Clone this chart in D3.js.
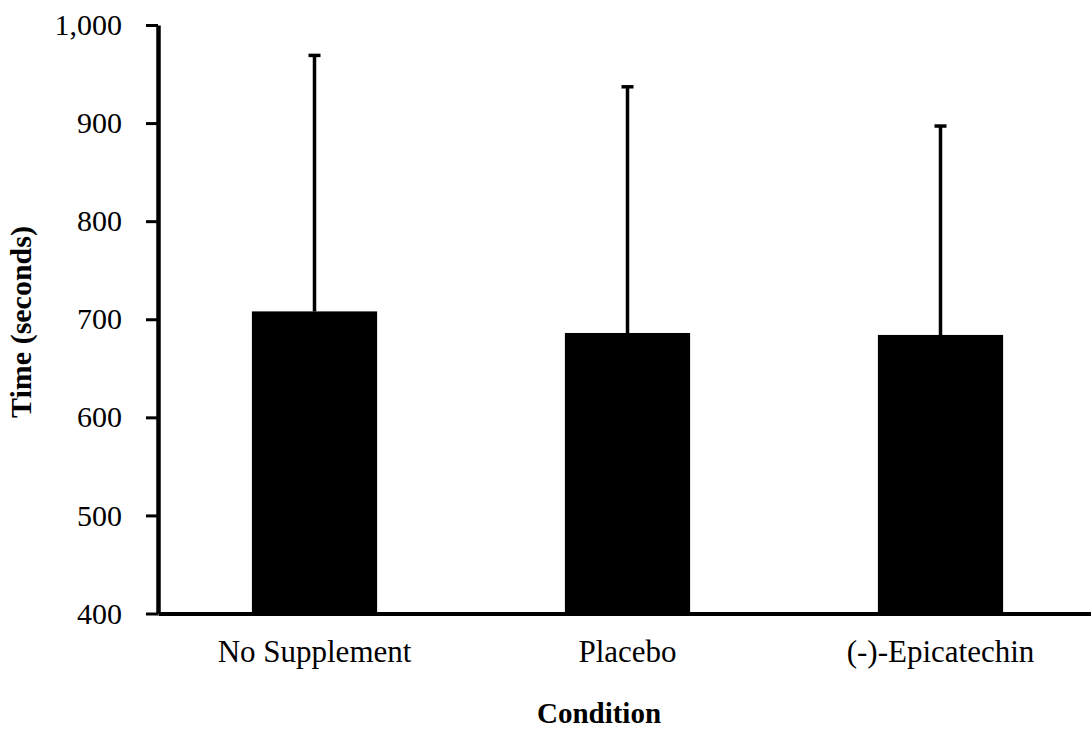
<!DOCTYPE html>
<html>
<head>
<meta charset="utf-8">
<script src="https://cdn.jsdelivr.net/npm/d3@7"></script>
<style>
  html, body { margin: 0; padding: 0; background: #fff; }
  svg { display: block; }
  text { font-family: "Liberation Serif", "Times New Roman", serif; fill: #000; }
</style>
</head>
<body>
<svg id="chart" width="1091" height="731"></svg>
<script>
const categories = ["No Supplement", "Placebo", "(-)-Epicatechin"];
const means = [708, 686, 684];
const errors = [261, 251, 213];
const yTicks = [400, 500, 600, 700, 800, 900, 1000];

const svg = d3.select("#chart");
const axisX = 158, topY = 25, baseY = 613.5;

const x = d3.scaleBand().domain(categories).range([axisX, 1097]).paddingInner(0.6).paddingOuter(0.3);
const y = d3.scaleLinear().domain([400, 1000]).range([baseY, topY]);

const data = categories.map((c, i) => ({ c, m: means[i], e: errors[i] }));

// error bars (behind bars)
const eg = svg.append("g");
eg.selectAll("line.err").data(data).join("line")
  .attr("x1", d => x(d.c) + x.bandwidth() / 2)
  .attr("x2", d => x(d.c) + x.bandwidth() / 2)
  .attr("y1", d => y(d.m))
  .attr("y2", d => y(d.m + d.e))
  .attr("stroke", "#000").attr("stroke-width", 3.5);
eg.selectAll("line.cap").data(data).join("line")
  .attr("x1", d => x(d.c) + x.bandwidth() / 2 - 6)
  .attr("x2", d => x(d.c) + x.bandwidth() / 2 + 6)
  .attr("y1", d => y(d.m + d.e))
  .attr("y2", d => y(d.m + d.e))
  .attr("stroke", "#000").attr("stroke-width", 3.5);

// bars
svg.append("g").selectAll("rect").data(data).join("rect")
  .attr("x", d => x(d.c))
  .attr("width", x.bandwidth())
  .attr("y", d => y(d.m))
  .attr("height", d => y(400) - y(d.m))
  .attr("fill", "#000");

// y axis
const yAxis = svg.append("g").attr("transform", `translate(${axisX},0)`)
  .call(d3.axisLeft(y).tickValues(yTicks).tickFormat(d3.format(",")).tickSize(12).tickSizeOuter(0).tickPadding(24));
yAxis.select(".domain").attr("stroke", "#000").attr("stroke-width", 4.5);
yAxis.selectAll(".tick line").attr("stroke", "#000").attr("stroke-width", 3);
yAxis.selectAll(".tick text").attr("font-family", "Liberation Serif").attr("font-size", 30).attr("fill", "#000");

// x axis
const xAxis = svg.append("g").attr("transform", `translate(0,${baseY})`)
  .call(d3.axisBottom(x).tickSize(0).tickSizeOuter(0).tickPadding(26));
xAxis.select(".domain").attr("stroke", "#000").attr("stroke-width", 4);
xAxis.selectAll(".tick text").attr("font-family", "Liberation Serif").attr("font-size", 31).attr("fill", "#000");

// titles
svg.append("text")
  .attr("transform", `translate(31,${322}) rotate(-90)`)
  .attr("text-anchor", "middle")
  .attr("font-weight", "bold").attr("font-size", 30)
  .text("Time (seconds)");
svg.append("text")
  .attr("x", 599).attr("y", 723)
  .attr("text-anchor", "middle")
  .attr("font-weight", "bold").attr("font-size", 29)
  .text("Condition");
</script>
</body>
</html>
